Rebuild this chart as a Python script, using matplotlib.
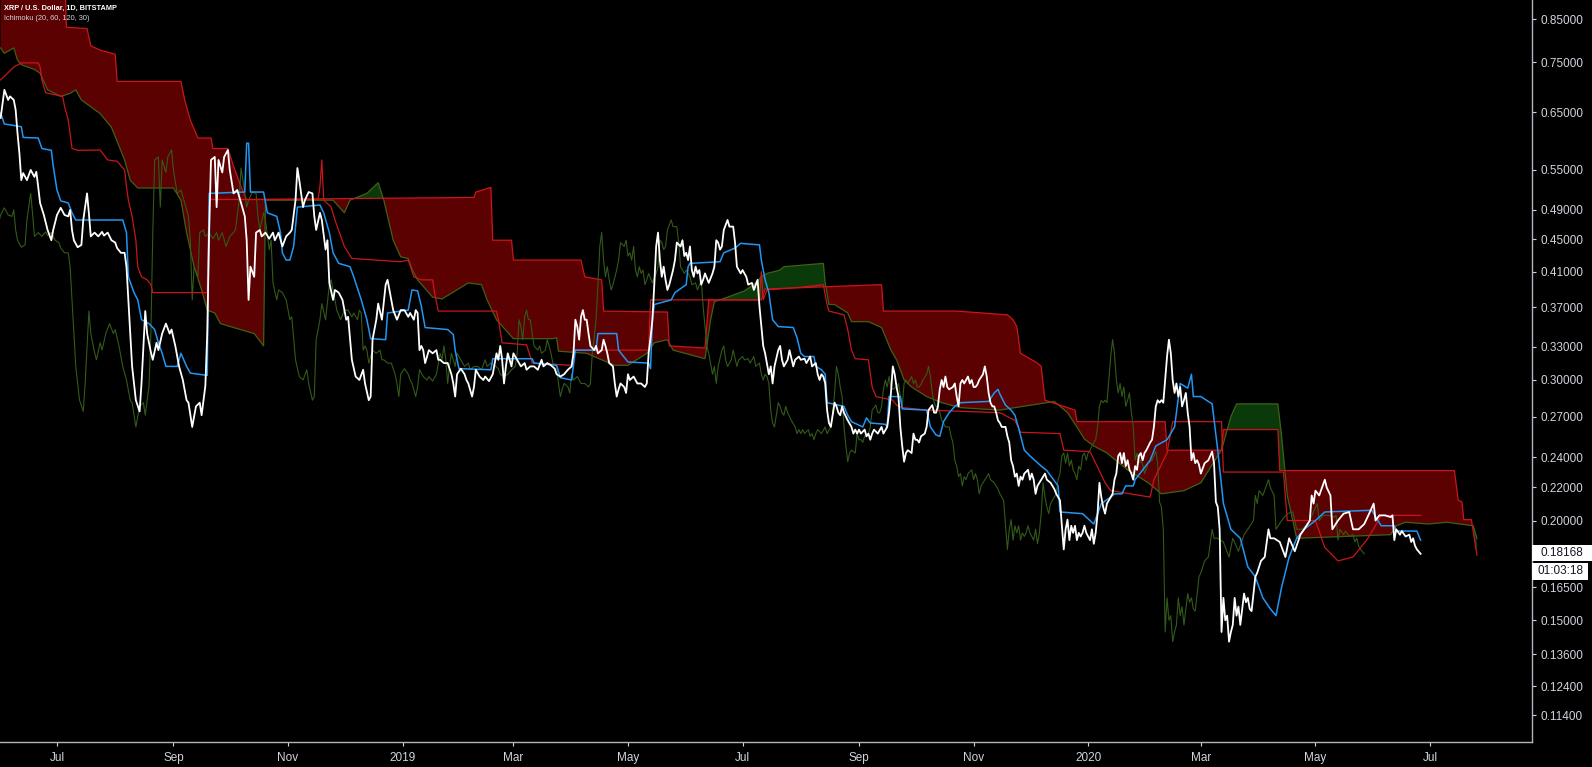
import numpy as np
import pandas as pd
import matplotlib
matplotlib.use('Agg')
import matplotlib.pyplot as plt
from matplotlib.patches import Rectangle
from matplotlib.ticker import NullLocator

plt.rcParams['font.family'] = ['Liberation Sans', 'DejaVu Sans']

# day index counted from 2018-06-01, value in USD
close_pts = [
    (0, 0.639), (2, 0.693), (4, 0.673), (5, 0.680), (7, 0.673), (8, 0.654), (9, 0.611), (10, 0.577),
    (11, 0.534), (12, 0.545), (14, 0.534), (16, 0.550), (18, 0.539), (19, 0.547), (20, 0.524), (21, 0.500),
    (23, 0.483), (25, 0.4625), (27, 0.449), (28, 0.4625), (30, 0.483), (32, 0.493), (34, 0.483), (36, 0.481),
    (37, 0.490), (38, 0.4625), (39, 0.449), (41, 0.440), (43, 0.443), (44, 0.476), (46, 0.514), (47, 0.485),
    (48, 0.454), (50, 0.459), (52, 0.454), (54, 0.460), (55, 0.455), (57, 0.459), (59, 0.449), (61, 0.446),
    (62, 0.439), (64, 0.433), (66, 0.433), (67, 0.416), (68, 0.378), (69, 0.343), (70, 0.312), (72, 0.283),
    (74, 0.274), (75, 0.297), (77, 0.366), (78, 0.343), (80, 0.325), (81, 0.318), (83, 0.334), (84, 0.327),
    (86, 0.343), (88, 0.353), (90, 0.343), (91, 0.347), (93, 0.331), (95, 0.312), (97, 0.300), (99, 0.283),
    (100, 0.281), (102, 0.262), (104, 0.278), (106, 0.281), (107, 0.271), (109, 0.295), (110, 0.343),
    (111, 0.459), (112, 0.566), (114, 0.571), (115, 0.494), (116, 0.566), (118, 0.546), (119, 0.571),
    (121, 0.5825), (122, 0.550), (124, 0.514), (126, 0.519), (128, 0.500), (130, 0.481), (131, 0.449),
    (132, 0.378), (133, 0.416), (135, 0.404), (136, 0.459), (138, 0.4625), (139, 0.454), (141, 0.459),
    (143, 0.451), (145, 0.459), (146, 0.449), (148, 0.459), (150, 0.441), (152, 0.454), (154, 0.459),
    (155, 0.4625), (157, 0.504), (158, 0.553), (159, 0.534), (161, 0.494), (162, 0.504), (164, 0.516),
    (166, 0.514), (167, 0.481), (168, 0.4625), (170, 0.486), (171, 0.476), (173, 0.437), (174, 0.449),
    (175, 0.397), (177, 0.378), (178, 0.389), (180, 0.386), (182, 0.378), (184, 0.357), (185, 0.360),
    (187, 0.318), (189, 0.303), (191, 0.300), (193, 0.309), (194, 0.297), (196, 0.283), (197, 0.286),
    (198, 0.337), (200, 0.357), (201, 0.374), (203, 0.357), (205, 0.395), (206, 0.4005), (208, 0.378),
    (209, 0.367), (211, 0.357), (213, 0.367),
    (215, 0.367), (217, 0.360), (218, 0.364), (220, 0.357), (221, 0.367), (222, 0.364), (223, 0.327),
    (224, 0.331), (225, 0.327), (226, 0.315), (228, 0.327), (230, 0.324), (232, 0.327), (233, 0.318),
    (234, 0.318), (236, 0.315), (238, 0.315), (240, 0.305), (241, 0.297), (242, 0.286), (243, 0.305),
    (245, 0.310), (247, 0.305), (248, 0.300), (249, 0.297), (251, 0.286), (252, 0.294), (253, 0.309),
    (255, 0.303), (257, 0.300), (258, 0.303), (260, 0.299), (262, 0.305), (264, 0.324), (265, 0.318),
    (266, 0.331), (267, 0.318), (268, 0.297), (269, 0.312), (270, 0.324), (272, 0.312), (273, 0.324),
    (275, 0.318), (277, 0.312), (279, 0.315), (280, 0.309), (282, 0.312), (284, 0.312), (286, 0.309),
    (288, 0.318), (289, 0.312), (291, 0.315), (293, 0.313), (295, 0.310), (296, 0.305), (298, 0.303),
    (300, 0.305), (302, 0.309), (304, 0.312), (305, 0.324), (306, 0.357), (307, 0.350), (308, 0.337),
    (309, 0.360), (310, 0.367), (311, 0.357), (312, 0.357), (313, 0.343), (314, 0.331), (316, 0.327),
    (317, 0.331), (318, 0.324), (320, 0.327), (321, 0.337), (322, 0.331), (323, 0.324), (324, 0.315),
    (326, 0.312), (327, 0.297), (328, 0.286), (329, 0.292), (330, 0.297), (332, 0.294), (333, 0.289),
    (334, 0.305), (335, 0.300), (337, 0.303), (339, 0.297), (341, 0.297), (343, 0.294), (344, 0.297),
    (345, 0.324), (346, 0.339), (347, 0.357), (348, 0.395), (349, 0.441), (350, 0.459), (351, 0.424),
    (352, 0.404), (353, 0.416), (354, 0.4005), (355, 0.389), (356, 0.395), (358, 0.412), (359, 0.424),
    (360, 0.446), (362, 0.441), (363, 0.449), (364, 0.429), (365, 0.433), (366, 0.424), (367, 0.441),
    (368, 0.412), (369, 0.404), (370, 0.416), (371, 0.408), (372, 0.412), (373, 0.395), (374, 0.4005),
    (375, 0.408), (377, 0.397), (379, 0.408), (380, 0.416), (381, 0.449), (382, 0.446), (383, 0.437),
    (384, 0.441), (385, 0.4625), (387, 0.476), (388, 0.467), (390, 0.467), (391, 0.446), (392, 0.416),
    (394, 0.408), (395, 0.412), (397, 0.404), (398, 0.395), (400, 0.397), (401, 0.389), (403, 0.4005),
    (404, 0.371), (405, 0.350), (406, 0.331), (407, 0.324), (409, 0.305), (410, 0.312), (411, 0.297),
    (412, 0.312), (414, 0.327), (415, 0.331), (416, 0.318), (417, 0.312), (419, 0.318), (420, 0.327),
    (422, 0.312), (423, 0.318), (425, 0.321), (426, 0.318),
    (428, 0.319), (429, 0.315), (430, 0.318), (431, 0.321), (432, 0.312), (434, 0.315), (435, 0.305),
    (436, 0.300), (437, 0.305), (438, 0.303), (439, 0.297), (440, 0.275), (441, 0.265), (442, 0.262),
    (444, 0.281), (445, 0.278), (446, 0.273), (447, 0.271), (448, 0.278), (449, 0.273), (451, 0.267),
    (453, 0.262), (454, 0.257), (455, 0.260), (456, 0.257), (457, 0.260), (458, 0.257), (460, 0.260),
    (461, 0.255), (462, 0.257), (463, 0.2525), (464, 0.257), (465, 0.260), (467, 0.257), (469, 0.262),
    (470, 0.257), (472, 0.262), (473, 0.273), (474, 0.289), (475, 0.312), (476, 0.305), (477, 0.294),
    (478, 0.286), (479, 0.262), (480, 0.248), (481, 0.237), (482, 0.243), (483, 0.245), (485, 0.243),
    (486, 0.257), (487, 0.2525), (488, 0.2525), (489, 0.2505), (490, 0.255), (492, 0.257), (493, 0.262),
    (494, 0.275), (496, 0.279), (497, 0.273), (498, 0.273), (499, 0.278), (500, 0.292), (501, 0.300),
    (502, 0.294), (503, 0.303), (504, 0.294), (505, 0.292), (507, 0.294), (508, 0.297), (509, 0.286),
    (510, 0.278), (511, 0.297), (512, 0.300), (513, 0.297), (515, 0.303), (516, 0.297), (517, 0.300),
    (518, 0.294), (519, 0.294), (520, 0.296), (521, 0.300), (523, 0.305), (524, 0.312), (525, 0.303),
    (526, 0.289), (527, 0.281), (528, 0.278), (529, 0.278), (530, 0.273), (531, 0.267), (532, 0.265),
    (533, 0.262), (535, 0.262), (536, 0.255), (537, 0.2505), (538, 0.238), (539, 0.234), (540, 0.227),
    (541, 0.229), (542, 0.221), (543, 0.227), (544, 0.225), (545, 0.229), (547, 0.2315), (548, 0.225),
    (549, 0.229), (550, 0.225), (551, 0.216), (552, 0.221), (553, 0.223), (555, 0.227), (556, 0.229),
    (557, 0.225), (559, 0.223), (560, 0.221), (561, 0.219), (562, 0.216), (564, 0.212), (565, 0.197),
    (566, 0.184), (567, 0.195), (568, 0.2005), (569, 0.189), (570, 0.197), (571, 0.193), (572, 0.197),
    (573, 0.189), (574, 0.193), (575, 0.191), (576, 0.193), (577, 0.197), (578, 0.193), (580, 0.189),
    (581, 0.195), (582, 0.187), (583, 0.193), (584, 0.204), (585, 0.223), (586, 0.214), (587, 0.208),
    (588, 0.204), (589, 0.210), (590, 0.212), (591, 0.214), (592, 0.216), (593, 0.225), (594, 0.229),
    (595, 0.241), (596, 0.243), (597, 0.236), (598, 0.243), (599, 0.234), (600, 0.238), (601, 0.2315),
    (602, 0.229), (603, 0.225), (604, 0.234), (605, 0.2315), (606, 0.241), (607, 0.243), (608, 0.238),
    (609, 0.243), (610, 0.245), (612, 0.2505), (613, 0.2525), (614, 0.262), (615, 0.278), (616, 0.283),
    (617, 0.281), (618, 0.283), (619, 0.281), (620, 0.300), (621, 0.321), (622, 0.337), (623, 0.324),
    (624, 0.300), (625, 0.289), (626, 0.297), (627, 0.286), (628, 0.294), (629, 0.278), (630, 0.283),
    (631, 0.289), (632, 0.273), (633, 0.262), (634, 0.238), (635, 0.243), (636, 0.236), (637, 0.238),
    (638, 0.235), (639, 0.229), (641, 0.236), (643, 0.238), (645, 0.244), (646, 0.236), (647, 0.211),
    (648, 0.208), (649, 0.195), (650, 0.145), (651, 0.160), (652, 0.150), (653, 0.152), (654, 0.141),
    (655, 0.145), (656, 0.148), (657, 0.160), (658, 0.152), (659, 0.156), (660, 0.148), (661, 0.155),
    (662, 0.162), (663, 0.158), (664, 0.160), (665, 0.155), (666, 0.154), (668, 0.170), (669, 0.172),
    (671, 0.178), (673, 0.180), (675, 0.195), (676, 0.190), (678, 0.190), (681, 0.188), (684, 0.180),
    (686, 0.190), (689, 0.183), (692, 0.192), (694, 0.195), (697, 0.200), (698, 0.215), (699, 0.210),
    (700, 0.218), (702, 0.215), (705, 0.225), (706, 0.220), (708, 0.215), (709, 0.195), (712, 0.200),
    (715, 0.204), (718, 0.205), (720, 0.195), (723, 0.195), (726, 0.198), (729, 0.205), (731, 0.210),
    (732, 0.200), (734, 0.203), (737, 0.203), (740, 0.202), (741, 0.203), (742, 0.189), (743, 0.195),
    (745, 0.192), (746, 0.194), (748, 0.191), (750, 0.192), (751, 0.188), (752, 0.190), (753, 0.186),
    (754, 0.184), (756, 0.18168),
]

# Ichimoku lines (day index, value)
conversion_pts = [
    (0, 0.648), (2, 0.628), (11, 0.623), (12, 0.604), (20, 0.603), (22, 0.585), (27, 0.582), (28, 0.556),
    (30, 0.519), (32, 0.503), (36, 0.500), (38, 0.486), (40, 0.476), (65, 0.476), (67, 0.459), (68, 0.404),
    (71, 0.386), (73, 0.378), (75, 0.357), (79, 0.353), (82, 0.347), (84, 0.334), (86, 0.324), (88, 0.312),
    (94, 0.312), (96, 0.324), (99, 0.312), (101, 0.306), (110, 0.304), (111, 0.514), (130, 0.516),
    (131, 0.594), (132, 0.594), (133, 0.516), (140, 0.516), (142, 0.486), (147, 0.481), (149, 0.459),
    (150, 0.433), (152, 0.424), (154, 0.424), (156, 0.441), (158, 0.494), (170, 0.497), (172, 0.486),
    (175, 0.459), (177, 0.433), (180, 0.420), (186, 0.416), (188, 0.404), (192, 0.378), (195, 0.357),
    (197, 0.338), (205, 0.337), (206, 0.364), (217, 0.367), (219, 0.389), (222, 0.388), (224, 0.371),
    (226, 0.349), (238, 0.347), (241, 0.342), (242, 0.327), (244, 0.310), (261, 0.309), (262, 0.319),
    (283, 0.319), (284, 0.315), (296, 0.313), (298, 0.302), (304, 0.300), (306, 0.327), (317, 0.327),
    (318, 0.343), (328, 0.343), (329, 0.327), (334, 0.316), (345, 0.315), (346, 0.310), (347, 0.357),
    (348, 0.373), (357, 0.378), (359, 0.386), (365, 0.395), (366, 0.416), (367, 0.420), (383, 0.422),
    (385, 0.433), (391, 0.439), (394, 0.445), (404, 0.443), (405, 0.424), (407, 0.4005), (409, 0.386),
    (411, 0.357), (414, 0.350), (422, 0.349), (424, 0.339), (426, 0.324), (428, 0.321), (433, 0.321),
    (434, 0.312), (437, 0.309), (439, 0.305), (440, 0.281), (449, 0.278), (451, 0.271), (453, 0.266),
    (459, 0.262), (461, 0.269), (463, 0.265), (471, 0.264), (472, 0.262), (473, 0.286), (479, 0.286),
    (480, 0.276), (493, 0.275), (495, 0.262), (498, 0.256), (500, 0.255), (502, 0.266), (505, 0.273),
    (508, 0.278), (511, 0.281), (526, 0.282), (529, 0.289), (531, 0.292), (532, 0.288), (535, 0.279),
    (538, 0.275), (540, 0.271), (542, 0.261), (545, 0.245), (548, 0.241), (554, 0.234), (557, 0.231),
    (563, 0.221), (564, 0.205), (576, 0.204), (582, 0.198), (584, 0.204), (586, 0.210), (591, 0.214),
    (593, 0.216), (597, 0.216), (599, 0.221), (603, 0.221), (604, 0.225), (612, 0.238), (615, 0.248),
    (621, 0.2525), (625, 0.262), (628, 0.297), (632, 0.293), (634, 0.305), (635, 0.286), (639, 0.286),
    (645, 0.280), (648, 0.245), (651, 0.210), (655, 0.195), (660, 0.190), (664, 0.175), (668, 0.170),
    (672, 0.160), (676, 0.155), (679, 0.152), (682, 0.165), (686, 0.180), (690, 0.190), (694, 0.195),
    (700, 0.200), (705, 0.205), (730, 0.206), (735, 0.197), (742, 0.197), (743, 0.194), (754, 0.194),
    (756, 0.189),
]

base_pts = [
    (0, 0.713), (7, 0.740), (11, 0.749), (20, 0.749), (21, 0.740), (22, 0.713), (24, 0.687), (33, 0.680),
    (34, 0.661), (36, 0.635), (37, 0.611), (38, 0.585), (41, 0.582), (53, 0.5825), (57, 0.566),
    (62, 0.564), (66, 0.550), (67, 0.524), (68, 0.504), (70, 0.481), (72, 0.449), (73, 0.416), (75, 0.404),
    (78, 0.4005), (80, 0.395), (81, 0.386), (110, 0.386), (111, 0.505), (169, 0.505), (170, 0.524),
    (171, 0.566), (172, 0.504), (176, 0.494), (178, 0.476), (183, 0.441), (187, 0.426), (213, 0.422),
    (217, 0.424), (220, 0.404), (224, 0.4005), (230, 0.4005), (231, 0.386), (233, 0.366), (264, 0.366),
    (265, 0.357), (267, 0.334), (280, 0.332), (282, 0.321), (283, 0.315), (304, 0.313), (305, 0.327),
    (345, 0.327), (346, 0.378), (404, 0.378), (405, 0.410), (406, 0.378), (408, 0.389), (426, 0.392),
    (438, 0.395), (440, 0.373), (441, 0.366), (449, 0.362), (451, 0.347), (453, 0.327), (455, 0.319),
    (462, 0.318), (464, 0.294), (466, 0.286), (475, 0.283), (477, 0.279), (480, 0.277), (494, 0.275),
    (532, 0.273), (540, 0.267), (543, 0.258), (564, 0.257), (566, 0.245), (580, 0.244), (583, 0.236),
    (588, 0.223), (591, 0.218), (612, 0.214), (614, 0.225), (621, 0.243), (624, 0.266), (650, 0.266),
    (651, 0.230), (683, 0.230), (685, 0.200), (700, 0.200), (705, 0.185), (712, 0.178), (720, 0.180),
    (728, 0.190), (735, 0.203), (756, 0.203),
]

lead_a_pts = [
    (0, 0.782), (2, 0.770), (7, 0.782), (9, 0.755), (11, 0.745), (18, 0.735), (21, 0.727), (25, 0.693),
    (32, 0.680), (37, 0.686), (40, 0.693), (43, 0.673), (53, 0.647), (59, 0.622), (66, 0.566), (69, 0.534),
    (73, 0.522), (92, 0.522), (96, 0.504), (99, 0.459), (103, 0.416), (107, 0.389), (110, 0.367),
    (114, 0.364), (117, 0.353), (124, 0.349), (135, 0.343), (140, 0.331), (141, 0.504), (177, 0.504),
    (183, 0.486), (186, 0.504), (195, 0.514), (201, 0.530), (204, 0.504), (209, 0.449), (213, 0.428),
    (217, 0.426), (219, 0.413), (222, 0.4005), (230, 0.381), (235, 0.379), (249, 0.397), (256, 0.395),
    (259, 0.378), (264, 0.357), (273, 0.338), (294, 0.338), (296, 0.339), (297, 0.326), (312, 0.324),
    (320, 0.318), (327, 0.313), (334, 0.313), (344, 0.324), (348, 0.334), (355, 0.337), (358, 0.327),
    (375, 0.319), (378, 0.357), (380, 0.376), (387, 0.381), (396, 0.388), (401, 0.395), (405, 0.404),
    (408, 0.408), (415, 0.412), (417, 0.416), (438, 0.420), (439, 0.397), (441, 0.373), (444, 0.373),
    (451, 0.364), (453, 0.355), (462, 0.355), (469, 0.349), (474, 0.327), (477, 0.318), (481, 0.300),
    (485, 0.294), (493, 0.286), (501, 0.281), (511, 0.277), (532, 0.275), (540, 0.277), (557, 0.281),
    (561, 0.282), (568, 0.273), (573, 0.262), (577, 0.253), (582, 0.248), (589, 0.243), (600, 0.2315),
    (611, 0.223), (618, 0.216), (630, 0.218), (639, 0.223), (645, 0.235), (650, 0.245), (655, 0.270),
    (658, 0.280), (680, 0.280), (682, 0.255), (685, 0.215), (690, 0.190), (740, 0.192), (743, 0.197),
    (748, 0.199), (760, 0.198), (770, 0.199), (784, 0.197), (786, 0.190),
]

lead_b_pts = [
    (0, 1.000), (34, 1.000), (35, 0.830), (46, 0.827), (48, 0.787), (53, 0.777), (61, 0.768), (62, 0.710),
    (96, 0.710), (98, 0.673), (101, 0.635), (105, 0.603), (112, 0.603), (113, 0.585), (121, 0.585),
    (124, 0.556), (128, 0.524), (131, 0.505), (252, 0.508), (253, 0.516), (261, 0.523), (262, 0.449),
    (272, 0.449), (273, 0.424), (309, 0.424), (311, 0.404), (320, 0.4005), (321, 0.366), (355, 0.365),
    (356, 0.331), (375, 0.329), (377, 0.378), (405, 0.378), (407, 0.390), (469, 0.395), (470, 0.366),
    (509, 0.366), (536, 0.362), (539, 0.357), (541, 0.350), (543, 0.324), (552, 0.315), (554, 0.312),
    (556, 0.283), (560, 0.281), (572, 0.275), (573, 0.266), (620, 0.266), (621, 0.245), (650, 0.245),
    (651, 0.260), (680, 0.260), (681, 0.231), (774, 0.231), (776, 0.212), (778, 0.211), (779, 0.2005),
    (783, 0.2005), (786, 0.181),
]

lag_shift = 30
y_ticks = [0.85, 0.75, 0.65, 0.55, 0.49, 0.45, 0.41, 0.37, 0.33, 0.30, 0.27, 0.24, 0.22, 0.20,
           0.165, 0.15, 0.136, 0.124, 0.114]
x_ticks = ['2018-07-01', '2018-09-01', '2018-11-01', '2019-01-01', '2019-03-01', '2019-05-01',
           '2019-07-01', '2019-09-01', '2019-11-01', '2020-01-01', '2020-03-01', '2020-05-01',
           '2020-07-01']
x_labels = ['Jul', 'Sep', 'Nov', '2019', 'Mar', 'May', 'Jul', 'Sep', 'Nov', '2020', 'Mar', 'May', 'Jul']

start = pd.Timestamp('2018-06-01')


def to_dates(days):
    return start + pd.to_timedelta(np.asarray(days, dtype=float), unit='D')


def split(pts):
    d, v = zip(*pts)
    return np.array(d, dtype=float), np.array(v, dtype=float)


W, H = 1592, 767
fig = plt.figure(figsize=(W / 100, H / 100), dpi=100, facecolor='black')
ax = fig.add_axes([0, 25 / H, 1532 / W, 742 / H], facecolor='black')

# cloud
ad, av = split(lead_a_pts)
bd, bv = split(lead_b_pts)
grid = np.arange(0, 786.01, 0.25)
a = np.interp(grid, ad, av)
b = np.interp(grid, bd, bv)
gd = to_dates(grid)
ax.fill_between(gd, a, b, where=b >= a, interpolate=True, color='#5c0101', lw=0, zorder=1)
ax.fill_between(gd, a, b, where=b < a, interpolate=True, color='#0a3a0a', lw=0, zorder=1)
ax.plot(to_dates(ad), av, color='#3f6117', lw=0.9, zorder=2)
ax.plot(to_dates(bd), bv, color='#c9161b', lw=0.9, zorder=2)

# lagging span
cd, cv = split(close_pts)
ax.plot(to_dates(cd - lag_shift), cv, color='#335a19', lw=0.8, zorder=3)

# base and conversion
kd, kv = split(base_pts)
ax.plot(to_dates(kd), kv, color='#c9161b', lw=0.9, zorder=4)
td, tv = split(conversion_pts)
ax.plot(to_dates(td), tv, color='#2196f3', lw=1.1, zorder=5)

# price
ax.plot(to_dates(cd), cv, color='white', lw=1.3, zorder=6)

ax.set_yscale('log')
ax.set_ylim(0.10556, 0.898)
x0 = start - pd.Timedelta(hours=8)
ax.set_xlim(x0, x0 + pd.Timedelta(days=1532 / 1.8783))

ax.yaxis.tick_right()
ax.set_yticks(y_ticks)
ax.set_yticklabels(['%.5f' % t for t in y_ticks])
ax.yaxis.set_minor_locator(NullLocator())
ax.set_xticks(pd.to_datetime(x_ticks))
ax.set_xticklabels(x_labels)
ax.tick_params(colors='#d1d4dc', labelsize=8.5, length=3, width=0.8, pad=3)
ax.tick_params(axis='x', pad=4)

for s in ['left', 'top']:
    ax.spines[s].set_visible(False)
for s in ['right', 'bottom']:
    ax.spines[s].set_color('#b2b5be')
    ax.spines[s].set_linewidth(1)

fig.text(4 / W, 1 - 8 / H, 'XRP / U.S. Dollar, 1D, BITSTAMP', color='white', fontsize=5.3,
         fontweight='bold', va='center', ha='left')
fig.text(4 / W, 1 - 19 / H, 'Ichimoku (20, 60, 120, 30)', color='#d1d4dc', fontsize=5.3,
         va='center', ha='left')

# last price and countdown labels
fig.add_artist(Rectangle((1532 / W, 1 - 561 / H), 60 / W, 16 / H, transform=fig.transFigure,
                         facecolor='white', edgecolor='none', zorder=10))
fig.text(1562 / W, 1 - 553 / H, '0.18168', color='#131722', fontsize=8.5, ha='center', va='center',
         zorder=11)
fig.add_artist(Rectangle((1532 / W, 1 - 580 / H), 56 / W, 17 / H, transform=fig.transFigure,
                         facecolor='white', edgecolor='none', zorder=10))
fig.text(1560 / W, 1 - 571 / H, '01:03:18', color='#131722', fontsize=8.5, ha='center', va='center',
         zorder=11)

fig.savefig('out.png', dpi=100, facecolor='black')
